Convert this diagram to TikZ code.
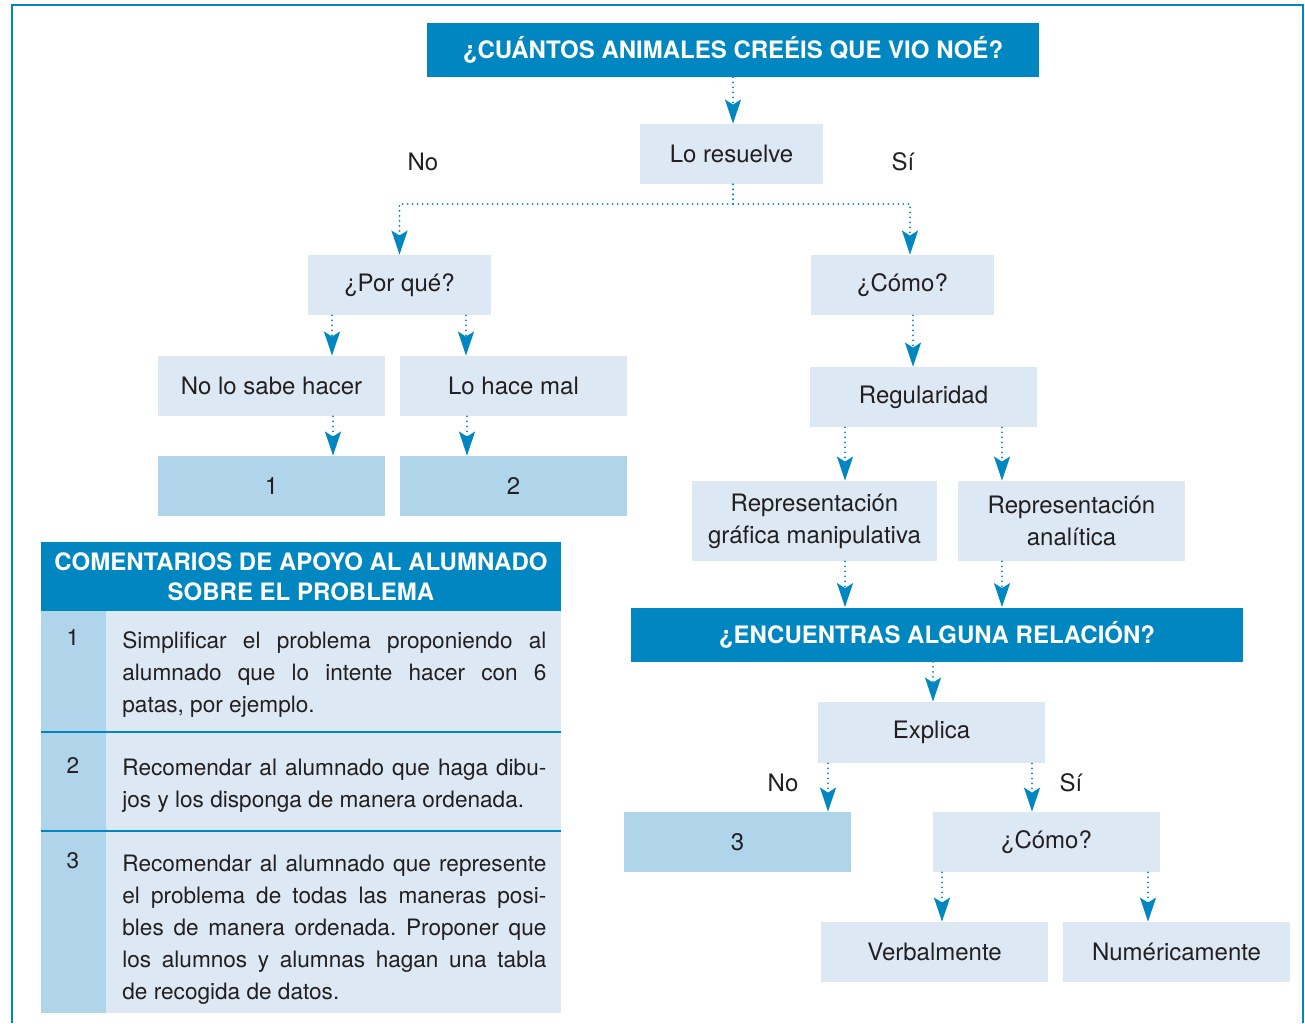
\documentclass[tikz,border=0pt]{standalone}
\usepackage{fontspec}
\setmainfont{TeX Gyre Heros}
\usetikzlibrary{arrows.meta}
\definecolor{azul}{RGB}{0,134,192}
\definecolor{celeste}{RGB}{220,233,244}
\definecolor{medio}{RGB}{176,212,233}
\definecolor{tinta}{RGB}{35,31,32}
\frenchspacing
\begin{document}
\begin{tikzpicture}[x=0.5pt,y=-0.5pt,
  caja/.style={fill=celeste,text=tinta,inner sep=0pt,minimum width=113.5pt,minimum height=30pt,
    align=center,font=\fontsize{12}{16}\selectfont},
  cajanum/.style={caja,fill=medio},
  titulo/.style={fill=azul,text=white,inner sep=0pt,minimum width=306pt,minimum height=27pt,
    font=\fontsize{12}{15}\selectfont\bfseries},
  etiq/.style={text=tinta,font=\fontsize{12}{16}\selectfont},
  flecha/.style={azul,line width=1pt,line cap=round,dash pattern=on 0pt off 2.5pt,
    -{Stealth[length=12pt,width=8pt,inset=2.5pt]}},
  fila/.style={text=tinta,inner sep=0pt,anchor=north west,align=left,
    font=\fontsize{11.3}{16}\selectfont}]
\useasboundingbox (0,0) rectangle (1305,1023);
% marco
\draw[azul,line width=1pt] (12,1023) -- (12,5) -- (1303,5) -- (1303,1023);
% arbol superior
\node[titulo] (noe) at (733,50) {¿CUÁNTOS ANIMALES CREÉIS QUE VIO NOÉ?};
\node[caja,minimum width=91.5pt] (resuelve) at (731.5,154) {Lo resuelve};
\node[etiq] (no1) at (423,162) {No};
\node[etiq] (si1) at (903,162) {Sí};
\node[caja,minimum width=91.5pt] (porque) at (399.5,285) {¿Por qué?};
\node[caja,minimum width=91.5pt] (como1) at (902.5,285) {¿Cómo?};
\node[caja] (nosabe) at (271.5,386) {No lo sabe hacer};
\node[caja] (hacemal) at (513.5,386) {Lo hace mal};
\node[cajanum] (uno) at (271.5,486) {1};
\node[cajanum] (dos) at (513.5,486) {2};
\node[caja] (regular) at (923.5,397) {Regularidad};
\node[caja,minimum width=122.5pt,minimum height=40pt] (grafica) at (814.5,521)
  {Representación\\gráfica manipulativa};
\node[caja,minimum height=40pt] (analitica) at (1071.5,521) {Representación\\analítica};
\node[titulo] (relacion) at (937,634.5) {¿ENCUENTRAS ALGUNA RELACIÓN?};
\node[caja,minimum height=30.5pt] (explica) at (931.5,732.5) {Explica};
\node[etiq] (no2) at (783,783) {No};
\node[etiq] (si2) at (1071,783) {Sí};
\node[cajanum] (tres) at (737.5,842) {3};
\node[caja] (como2) at (1046.5,842) {¿Cómo?};
\node[caja] (verbal) at (934.5,952) {Verbalmente};
\node[caja] (numerica) at (1176.5,952) {Numéricamente};
% conectores
\draw[flecha] (noe.south -| 733,0) -- (resuelve.north -| 733,0);
\draw[flecha] (resuelve.south -| 733,0) -- (733,204) -| (porque.north);
\draw[flecha] (resuelve.south -| 733,0) -- (733,204) -| (como1.north -| 910,0);
\draw[flecha] (porque.south -| 332,0) -- (nosabe.north -| 332,0);
\draw[flecha] (porque.south -| 466,0) -- (hacemal.north -| 466,0);
\draw[flecha] (nosabe.south -| 333,0) -- (uno.north -| 333,0);
\draw[flecha] (hacemal.south -| 467,0) -- (dos.north -| 467,0);
\draw[flecha] (como1.south -| 913,0) -- (regular.north -| 913,0);
\draw[flecha] (regular.south -| 845,0) -- (grafica.north -| 845,0);
\draw[flecha] (regular.south -| 1002,0) -- (analitica.north -| 1002,0);
\draw[flecha] (grafica.south -| 845,0) -- (relacion.north -| 845,0);
\draw[flecha] (analitica.south -| 1002,0) -- (relacion.north -| 1002,0);
\draw[flecha] (relacion.south -| 933,0) -- (explica.north -| 933,0);
\draw[flecha] (explica.south -| 828,0) -- (tres.north -| 828,0);
\draw[flecha] (explica.south -| 1032,0) -- (como2.north -| 1032,0);
\draw[flecha] (como2.south -| 942,0) -- (verbal.north -| 942,0);
\draw[flecha] (como2.south -| 1148,0) -- (numerica.north -| 1148,0);
% tabla de comentarios
\fill[azul] (41,542) rectangle (561,611);
\fill[medio] (41,611) rectangle (106,1013);
\fill[celeste] (106,611) rectangle (561,1013);
\draw[azul,line width=1pt] (41,732) -- (561,732);
\draw[azul,line width=1pt] (41,831) -- (561,831);
\node[text=white,align=center,font=\fontsize{12}{15}\selectfont\bfseries] (cabecera) at (301,577)
  {COMENTARIOS DE APOYO AL ALUMNADO\\SOBRE EL PROBLEMA};
\node[etiq,font=\fontsize{11.3}{16}\selectfont] (n1) at (73,637) {1};
\node[etiq,font=\fontsize{11.3}{16}\selectfont] (n2) at (73,765) {2};
\node[etiq,font=\fontsize{11.3}{16}\selectfont] (n3) at (73,861) {3};
\node[fila] (t1) at (122,631) {%
  \makebox[212pt][s]{Simplificar el problema proponiendo al}\\
  \makebox[212pt][s]{alumnado que lo intente hacer con 6}\\
  patas, por ejemplo.};
\node[fila] (t2) at (122,759) {%
  \makebox[212pt][s]{Recomendar al alumnado que haga dibu-}\\
  jos y los disponga de manera ordenada.};
\node[fila] (t3) at (122,855) {%
  \makebox[212pt][s]{Recomendar al alumnado que represente}\\
  \makebox[212pt][s]{el problema de todas las maneras posi-}\\
  \makebox[212pt][s]{bles de manera ordenada. Proponer que}\\
  \makebox[212pt][s]{los alumnos y alumnas hagan una tabla}\\
  de recogida de datos.};
\end{tikzpicture}
\end{document}
